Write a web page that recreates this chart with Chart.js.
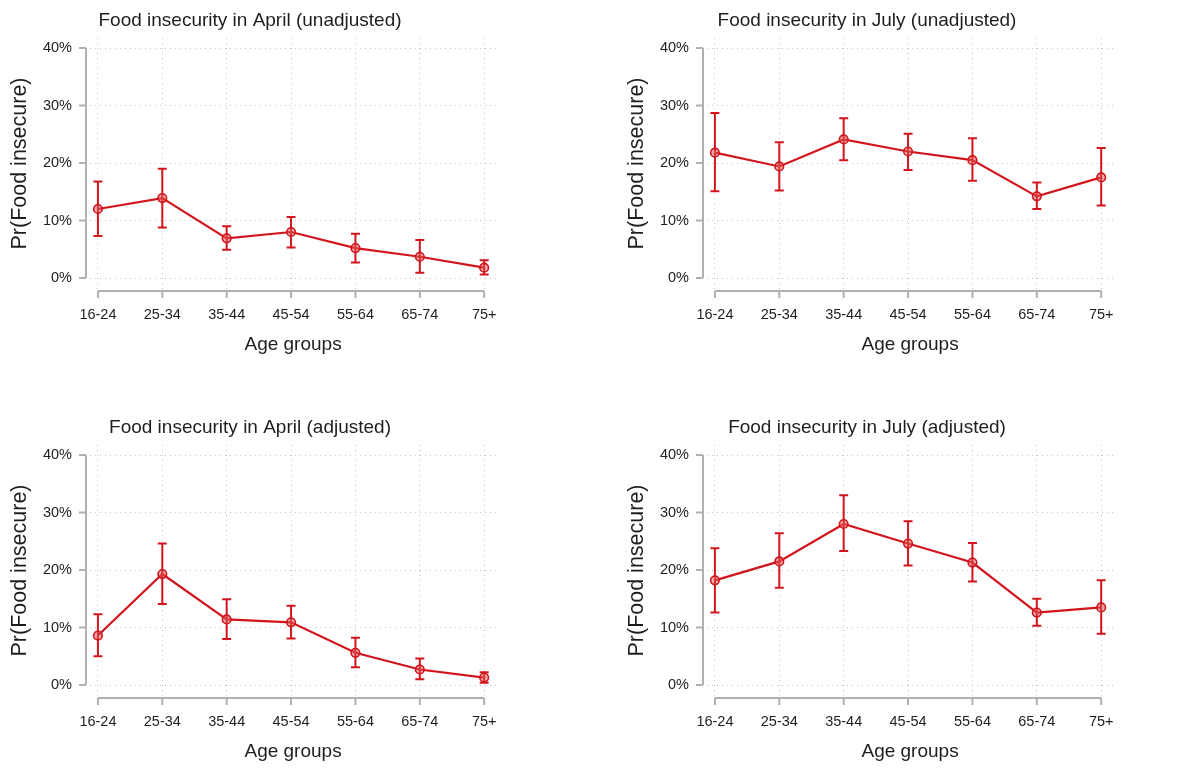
<!DOCTYPE html>
<html>
<head>
<meta charset="utf-8">
<script src="https://cdn.jsdelivr.net/npm/chart.js@4.4.1/dist/chart.umd.min.js"></script>
<style>
  html, body { margin: 0; padding: 0; background: #fff; }
  #wrap { position: relative; width: 1198px; height: 768px; overflow: hidden; }
  canvas { position: absolute; }
</style>
</head>
<body>
<div id="wrap">
  <canvas id="aprUnadj" width="502" height="361" style="left:0;top:0"></canvas>
  <canvas id="julUnadj" width="502" height="361" style="left:617px;top:0"></canvas>
  <canvas id="aprAdj" width="502" height="361" style="left:0;top:407px"></canvas>
  <canvas id="julAdj" width="502" height="361" style="left:617px;top:407px"></canvas>
</div>
<script>
const ageGroups = ['16-24', '25-34', '35-44', '45-54', '55-64', '65-74', '75+'];
const yTicks = [0, 10, 20, 30, 40];

// point estimates and 95% CI, in percent
const aprUnadj   = [12.0, 13.9, 6.9, 8.0, 5.2, 3.7, 1.8];
const aprUnadjLo = [7.3, 8.8, 4.9, 5.3, 2.7, 0.9, 0.6];
const aprUnadjHi = [16.8, 19.0, 9.0, 10.6, 7.7, 6.6, 3.1];

const julUnadj   = [21.8, 19.4, 24.1, 22.0, 20.5, 14.2, 17.5];
const julUnadjLo = [15.1, 15.2, 20.5, 18.8, 16.9, 12.0, 12.6];
const julUnadjHi = [28.7, 23.6, 27.8, 25.1, 24.3, 16.6, 22.6];

const aprAdj   = [8.6, 19.3, 11.4, 10.9, 5.6, 2.7, 1.3];
const aprAdjLo = [5.0, 14.1, 8.0, 8.1, 3.1, 1.0, 0.4];
const aprAdjHi = [12.3, 24.6, 14.9, 13.8, 8.2, 4.6, 2.2];

const julAdj   = [18.2, 21.5, 28.0, 24.6, 21.3, 12.6, 13.5];
const julAdjLo = [12.6, 16.9, 23.3, 20.8, 18.0, 10.3, 8.9];
const julAdjHi = [23.8, 26.4, 33.0, 28.5, 24.7, 15.0, 18.2];

const RED = '#d2151d';
const TEXT = '#1e1e1e';
const FONT = '"Liberation Sans", Arial, sans-serif';

// Stata-like axes: lines only span the tick range, offset from the plot region
const axisLines = {
  id: 'axisLines',
  afterDraw(chart) {
    const { ctx, chartArea, scales: { x, y } } = chart;
    const ax = chartArea.left - 4;
    const ay = chartArea.bottom + 2;
    ctx.save();
    ctx.strokeStyle = '#b0b0b0';
    ctx.lineWidth = 2;
    ctx.beginPath();
    ctx.moveTo(ax, y.getPixelForValue(yTicks[0]));
    ctx.lineTo(ax, y.getPixelForValue(yTicks[yTicks.length - 1]));
    y.ticks.forEach(t => {
      const p = y.getPixelForValue(t.value);
      ctx.moveTo(ax - 7, p);
      ctx.lineTo(ax, p);
    });
    ctx.moveTo(x.getPixelForValue(0), ay);
    ctx.lineTo(x.getPixelForValue(ageGroups.length - 1), ay);
    x.ticks.forEach(t => {
      const p = x.getPixelForValue(t.value);
      ctx.moveTo(p, ay);
      ctx.lineTo(p, ay + 7);
    });
    ctx.stroke();
    ctx.restore();
  }
};

const errorBars = {
  id: 'errorBars',
  beforeDatasetsDraw(chart) {
    const { ctx, scales: { x, y } } = chart;
    const ds = chart.data.datasets[0];
    ctx.save();
    ctx.strokeStyle = RED;
    ctx.lineWidth = 2;
    ds.errLow.forEach((lo, i) => {
      const px = x.getPixelForValue(i);
      const pLo = y.getPixelForValue(lo);
      const pHi = y.getPixelForValue(ds.errHigh[i]);
      ctx.beginPath();
      ctx.moveTo(px, pLo); ctx.lineTo(px, pHi);
      ctx.moveTo(px - 4.5, pLo); ctx.lineTo(px + 4.5, pLo);
      ctx.moveTo(px - 4.5, pHi); ctx.lineTo(px + 4.5, pHi);
      ctx.stroke();
    });
    ctx.restore();
  }
};

function createPanel(canvasId, title, values, low, high) {
  const ctx = document.getElementById(canvasId);
  return new Chart(ctx, {
    type: 'line',
    data: {
      datasets: [{
        data: values.map((v, i) => ({ x: i, y: v })),
        errLow: low,
        errHigh: high,
        borderColor: RED,
        borderWidth: 2.2,
        pointRadius: 4.3,
        pointBorderWidth: 1.6,
        pointBorderColor: RED,
        pointBackgroundColor: 'rgba(226, 90, 90, 0.5)',
        tension: 0,
      }],
    },
    options: {
      responsive: false,
      animation: false,
      events: [],
      layout: { padding: { left: 0, right: 2, top: 0, bottom: 0 } },
      plugins: {
        legend: { display: false },
        tooltip: { enabled: false },
        title: {
          display: true,
          text: title,
          color: TEXT,
          font: { family: FONT, size: 19, weight: 'normal', lineHeight: 1.2 },
          padding: { top: 9, bottom: 6.2 },
        },
      },
      scales: {
        x: {
          type: 'linear',
          min: -0.123,
          max: 6.185,
          afterBuildTicks: s => { s.ticks = ageGroups.map((_, i) => ({ value: i })); },
          afterFit: s => { s.height = 72; s.paddingLeft = 0; s.paddingRight = 0; },
          grid: { color: '#c4c4c4', lineWidth: 1, drawTicks: false },
          border: { display: false, dash: [1, 4] },
          ticks: {
            color: TEXT,
            padding: 17,
            maxRotation: 0,
            autoSkip: false,
            font: { family: FONT, size: 14.5 },
            callback: v => ageGroups[v],
          },
          title: {
            display: true,
            text: 'Age groups',
            color: TEXT,
            font: { family: FONT, size: 19, lineHeight: 1 },
            padding: { top: 0, bottom: 6.5 },
          },
        },
        y: {
          min: -1.91,
          max: 41.74,
          afterBuildTicks: s => { s.ticks = yTicks.map(v => ({ value: v })); },
          afterFit: s => { s.width = 90; s.paddingTop = 0; s.paddingBottom = 0; },
          grid: { color: '#c4c4c4', lineWidth: 1, drawTicks: false },
          border: { display: false, dash: [1, 4] },
          ticks: {
            color: TEXT,
            padding: 18,
            font: { family: FONT, size: 14.5 },
            callback: v => v + '%',
          },
          title: {
            display: true,
            text: 'Pr(Food insecure)',
            color: TEXT,
            font: { family: FONT, size: 21.5, lineHeight: 1 },
            padding: { top: 9.25, bottom: 0 },
          },
        },
      },
    },
    plugins: [errorBars, axisLines],
  });
}

createPanel('aprUnadj', 'Food insecurity in April (unadjusted)', aprUnadj, aprUnadjLo, aprUnadjHi);
createPanel('julUnadj', 'Food insecurity in July (unadjusted)', julUnadj, julUnadjLo, julUnadjHi);
createPanel('aprAdj', 'Food insecurity in April (adjusted)', aprAdj, aprAdjLo, aprAdjHi);
createPanel('julAdj', 'Food insecurity in July (adjusted)', julAdj, julAdjLo, julAdjHi);
</script>
</body>
</html>
